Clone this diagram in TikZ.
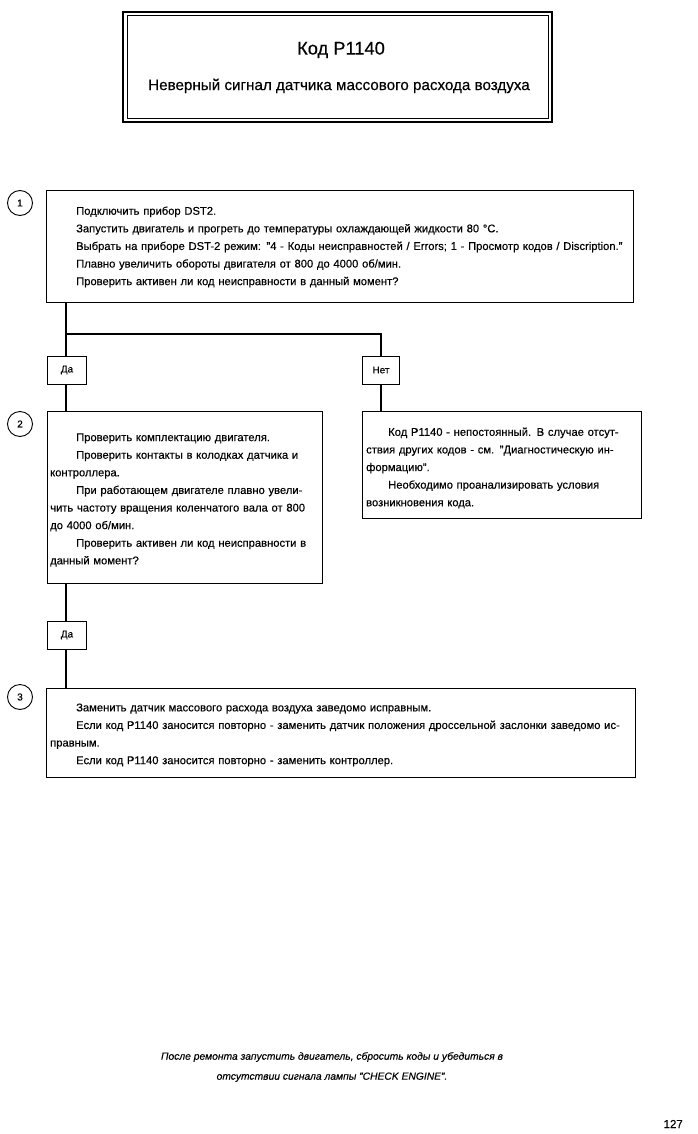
\documentclass[tikz,border=0pt]{standalone}
\usepackage{fontspec}
\setmainfont{Liberation Sans}[UprightFeatures={FakeBold=0.35},ItalicFeatures={FakeBold=0.3}]
\newcommand\jl[2]{\makebox[#1][s]{#2}}
\begin{document}
\begin{tikzpicture}[x=1pt,y=-1pt,
  box/.style={draw, line width=0.8pt, anchor=north west, inner sep=0pt},
  txt/.style={anchor=west, inner sep=0pt, align=left, font=\fontsize{11.2}{17.6}\selectfont},
  lbl/.style={draw, line width=0.8pt, minimum width=39pt, minimum height=28pt, inner sep=0pt, font=\fontsize{10}{11}\selectfont},
  circ/.style={draw, circle, line width=0.9pt, minimum size=25pt, inner sep=0pt, font=\fontsize{10}{11}\selectfont},
  conn/.style={line width=2.6pt}]
\useasboundingbox (0,0) rectangle (697,1134);
% title
\node[draw, line width=1.3pt, minimum width=429pt, minimum height=110pt, inner sep=0pt] (title) at (337.5,67) {};
\node[draw, line width=0.7pt, minimum width=421pt, minimum height=103pt, inner sep=0pt] (titlein) at (337.5,67) {};
\node[inner sep=0pt, font=\fontsize{18.3}{20}\selectfont] (h1) at (341,50) {Код P1140};
\node[inner sep=0pt, font=\fontsize{15.2}{18}\selectfont] (h2) at (339,86) {Неверный сигнал датчика массового расхода воздуха};
% step 1
\node[circ] (c1) at (20,203) {1};
\node[box, minimum width=587pt, minimum height=112pt] (b1) at (46,190) {};
\node[txt, text width=560pt] (t1) at (76,247) {Подключить прибор DST2.\\
Запустить двигатель и прогреть до температуры охлаждающей жидкости 80 °C.\\
Выбрать на приборе DST-2 режим: "4 - Коды неисправностей / Errors; 1 - Просмотр кодов / Discription."\\
Плавно увеличить обороты двигателя от 800 до 4000 об/мин.\\
Проверить активен ли код неисправности в данный момент?};
% branch labels
\coordinate (j1) at (66,334);
\node[lbl] (da1) at (67,370) {Да};
\node[lbl, minimum width=37pt] (net) at (381,370) {Нет};
% step 2
\node[circ] (c2) at (20,424) {2};
\node[box, minimum width=275pt, minimum height=172pt] (b2) at (47,411) {};
\node[txt, text width=266pt] (t2) at (50,500) {\hspace*{26pt}Проверить комплектацию двигателя.\\
\jl{266pt}{\hspace*{26pt}Проверить контакты в колодках датчика и}\\
контроллера.\\
\jl{266pt}{\hspace*{26pt}При работающем двигателе плавно увели-}\\
\jl{266pt}{чить частоту вращения коленчатого вала от 800}\\
до 4000 об/мин.\\
\jl{266pt}{\hspace*{26pt}Проверить активен ли код неисправности в}\\
данный момент?};
% no branch box
\node[box, minimum width=279pt, minimum height=107pt] (b4) at (362,411) {};
\node[txt, text width=261pt] (t4) at (366,468) {\jl{261pt}{\hspace*{22pt}Код P1140 - непостоянный. В случае отсут-}\\
\jl{261pt}{ствия других кодов - см. "Диагностическую ин-}\\
формацию".\\
\jl{261pt}{\hspace*{22pt}Необходимо проанализировать условия}\\
возникновения кода.};
% second yes
\node[lbl] (da2) at (67,635) {Да};
% step 3
\node[circ] (c3) at (20,697) {3};
\node[box, minimum width=589pt, minimum height=89pt] (b3) at (46,688) {};
\node[txt, text width=576pt] (t3) at (50,735) {\hspace*{26pt}Заменить датчик массового расхода воздуха заведомо исправным.\\
\jl{576pt}{\hspace*{26pt}Если код P1140 заносится повторно - заменить датчик положения дроссельной заслонки заведомо ис-}\\
правным.\\
\hspace*{26pt}Если код P1140 заносится повторно - заменить контроллер.};
% connectors
\draw[conn] (j1 |- b1.south) -- (j1) -| (net.north);
\draw[conn] (j1) -- (j1 |- da1.north);
\draw[conn] (j1 |- da1.south) -- (j1 |- b2.north);
\draw[conn] (net.south) -- (net.south |- b4.north);
\draw[conn] (j1 |- b2.south) -- (j1 |- da2.north);
\draw[conn] (j1 |- da2.south) -- (j1 |- b3.north);
% footnote
\node[inner sep=0pt, align=center, font=\fontsize{10.3}{20}\selectfont\itshape] (fn) at (332,1067) {После ремонта запустить двигатель, сбросить коды и убедиться в\\ отсутствии сигнала лампы "CHECK ENGINE".};
\node[anchor=east, inner sep=0pt, font=\fontsize{11.5}{12}\selectfont] (pg) at (683,1124) {127};
\end{tikzpicture}
\end{document}
